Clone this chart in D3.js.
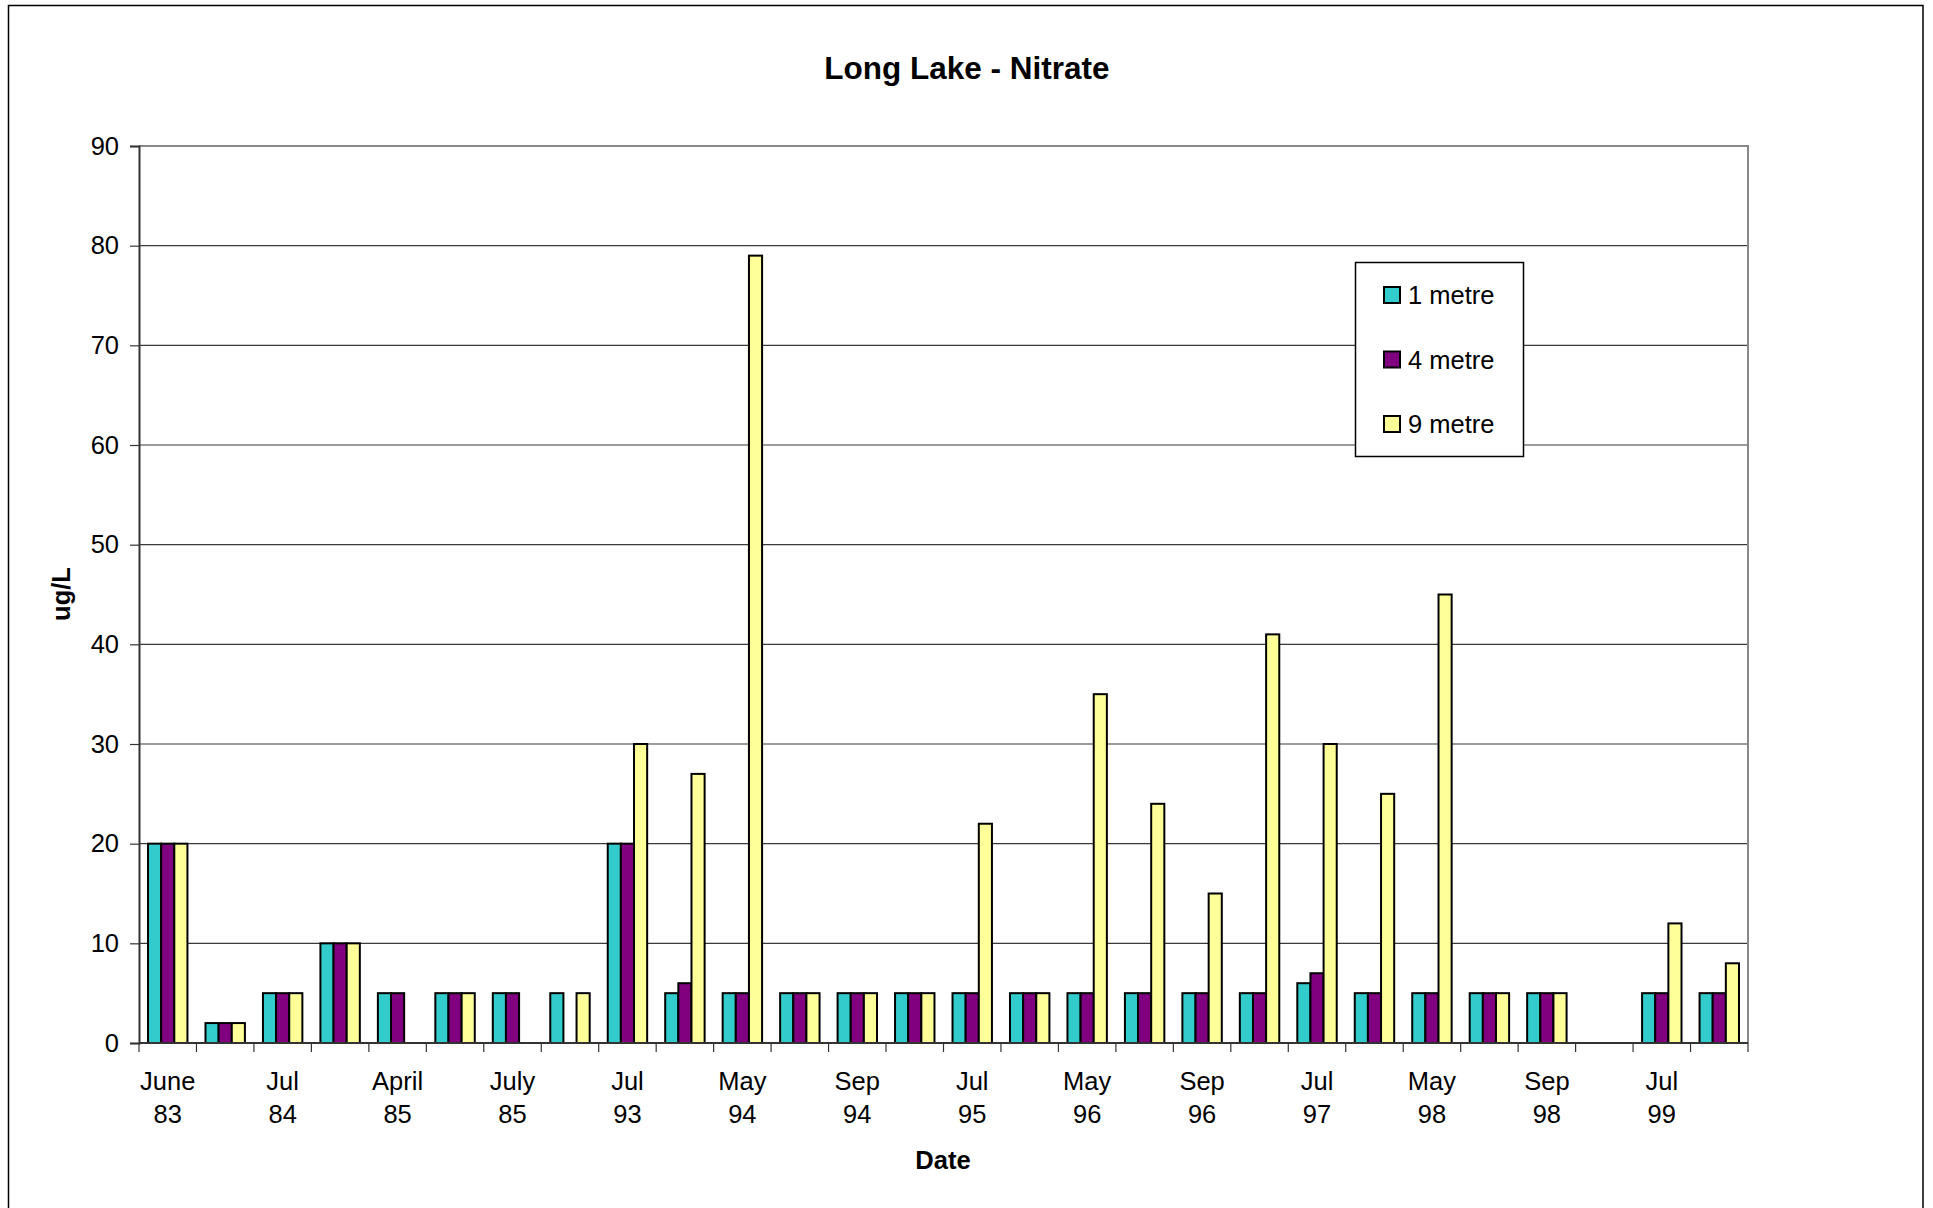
<!DOCTYPE html>
<html>
<head>
<meta charset="utf-8">
<script src="https://cdn.jsdelivr.net/npm/d3@7"></script>
<style>
  body { margin: 0; background: #fff; }
  text { font-family: "Liberation Sans", Arial, sans-serif; fill: #000; }
</style>
</head>
<body>
<div id="chart"></div>
<script>
// ------- data --------
var dates = ['June 83', '', 'Jul 84', '', 'April 85', '', 'July 85', '', 'Jul 93', '',
             'May 94', '', 'Sep 94', '', 'Jul 95', '', 'May 96', '', 'Sep 96', '',
             'Jul 97', '', 'May 98', '', 'Sep 98', '', 'Jul 99', '']
var series = ['1 metre', '4 metre', '9 metre']
var metre1 = [20, 2, 5, 10, 5, 5, 5, 5, 20, 5, 5, 5, 5, 5, 5, 5, 5, 5, 5, 5, 6, 5, 5, 5, 5, null, 5, 5]
var metre4 = [20, 2, 5, 10, 5, 5, 5, null, 20, 6, 5, 5, 5, 5, 5, 5, 5, 5, 5, 5, 7, 5, 5, 5, 5, null, 5, 5]
var metre9 = [20, 2, 5, 10, null, 5, null, 5, 30, 27, 79, 5, 5, 5, 22, 5, 35, 24, 15, 41, 30, 25, 45, 5, 5, null, 12, 8]
var yTicks = [0, 10, 20, 30, 40, 50, 60, 70, 80, 90]
var colors = ['#33CCCC', '#800080', '#FFFF99']

var width = 1933, height = 1208
// plot area (window.top is read-only, so no plain "top")
var plotL = 139, plotR = 1748, plotT = 146, plotB = 1043

var svg = d3.select('#chart').append('svg')
    .attr('width', width)
    .attr('height', height)

// outer chart border
svg.append('path')
    .attr('d', 'M8.5,1210 V5.5 H1923 V1210')
    .style('fill', 'none')
    .style('stroke', '#000')
    .style('stroke-width', 1.5)

// ------- scales --------
var x = d3.scaleBand()
    .domain(d3.range(dates.length))
    .range([plotL, plotR])
    .paddingInner(0.314)
    .paddingOuter(0.157)

var xs = d3.scaleBand()
    .domain(series)
    .range([0, x.bandwidth()])

var y = d3.scaleLinear()
    .domain([0, 90])
    .range([plotB, plotT])

// ------- grid --------
svg.append('g')
    .selectAll('line')
    .data(yTicks.filter(function(d) { return d > 0 && d < 90 }))
    .enter().append('line')
    .attr('x1', plotL).attr('x2', plotR)
    .attr('y1', function(d) { return y(d) }).attr('y2', function(d) { return y(d) })
    .style('stroke', '#3a3a3a')
    .style('stroke-width', 1.2)

// plot border (top + right)
svg.append('path')
    .attr('d', 'M' + plotL + ',' + plotT + ' H' + plotR + ' V' + plotB)
    .style('fill', 'none')
    .style('stroke', '#888')
    .style('stroke-width', 2)

// ------- bars --------
var rows = dates.map(function(d, i) {
    return { i: i, vals: [metre1[i], metre4[i], metre9[i]] }
})

var group = svg.append('g').selectAll('g')
    .data(rows)
    .enter().append('g')
    .attr('transform', function(d) { return 'translate(' + x(d.i) + ',0)' })

group.selectAll('rect')
    .data(function(d) {
        return d.vals.map(function(v, k) { return { s: series[k], k: k, v: v } })
            .filter(function(b) { return b.v != null })
    })
    .enter().append('rect')
    .attr('x', function(b) { return xs(b.s) })
    .attr('y', function(b) { return y(b.v) })
    .attr('width', xs.bandwidth())
    .attr('height', function(b) { return y(0) - y(b.v) })
    .style('fill', function(b) { return colors[b.k] })
    .style('stroke', '#000')
    .style('stroke-width', 2)

// ------- axes --------
var yAxis = svg.append('g')
    .attr('transform', 'translate(' + plotL + ',0)')
    .call(d3.axisLeft(y).tickValues(yTicks).tickSize(9).tickPadding(11))
yAxis.select('.domain').style('stroke', '#333').style('stroke-width', 2)
yAxis.selectAll('.tick line').style('stroke', '#333').style('stroke-width', 1.2)
yAxis.selectAll('.tick text')
    .style('font-size', '25.5px')
    .style('font-family', '"Liberation Sans", Arial, sans-serif')

var xAxis = svg.append('g')
    .attr('transform', 'translate(0,' + plotB + ')')
xAxis.append('line')
    .attr('x1', plotL).attr('x2', plotR)
    .style('stroke', '#333').style('stroke-width', 2)
xAxis.selectAll('.tk')
    .data(d3.range(dates.length + 1))
    .enter().append('line')
    .attr('x1', function(i) { return plotL + i * x.step() })
    .attr('x2', function(i) { return plotL + i * x.step() })
    .attr('y1', 0).attr('y2', 9)
    .style('stroke', '#333').style('stroke-width', 1.2)

var lbl = xAxis.selectAll('.lbl')
    .data(rows.filter(function(d) { return dates[d.i] != '' }))
    .enter().append('text')
    .attr('text-anchor', 'middle')
    .style('font-size', '25.5px')
lbl.append('tspan')
    .attr('x', function(d) { return x(d.i) + x.bandwidth() / 2 })
    .attr('y', 47)
    .text(function(d) { return dates[d.i].split(' ')[0] })
lbl.append('tspan')
    .attr('x', function(d) { return x(d.i) + x.bandwidth() / 2 })
    .attr('y', 80)
    .text(function(d) { return dates[d.i].split(' ')[1] })

// ------- titles --------
svg.append('text')
    .attr('x', 967).attr('y', 79)
    .attr('text-anchor', 'middle')
    .style('font-size', '31.5px')
    .style('font-weight', 'bold')
    .text('Long Lake - Nitrate')

svg.append('text')
    .attr('x', 943).attr('y', 1169)
    .attr('text-anchor', 'middle')
    .style('font-size', '25.5px')
    .style('font-weight', 'bold')
    .text('Date')

svg.append('text')
    .attr('transform', 'translate(70,594)rotate(-90)')
    .attr('text-anchor', 'middle')
    .style('font-size', '25.5px')
    .style('font-weight', 'bold')
    .text('ug/L')

// ------- legend --------
var legend = svg.append('g')
legend.append('rect')
    .attr('x', 1355.5).attr('y', 262.5)
    .attr('width', 168).attr('height', 194)
    .style('fill', '#fff')
    .style('stroke', '#000')
    .style('stroke-width', 1.5)

var item = legend.selectAll('.item')
    .data(series)
    .enter().append('g')
    .attr('transform', function(d, k) { return 'translate(1384,' + (295 + k * 64.5) + ')' })
item.append('rect')
    .attr('x', 0).attr('y', -8)
    .attr('width', 16).attr('height', 16)
    .style('fill', function(d, k) { return colors[k] })
    .style('stroke', '#000')
    .style('stroke-width', 2)
item.append('text')
    .attr('x', 24).attr('dy', '0.36em')
    .style('font-size', '25.5px')
    .text(function(d) { return d })
</script>
</body>
</html>
